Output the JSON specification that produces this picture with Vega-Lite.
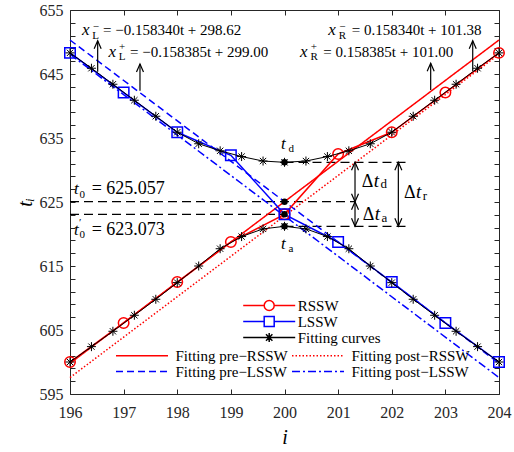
{
  "$schema": "https://vega.github.io/schema/vega-lite/v6.json",
  "width": 429,
  "height": 384,
  "autosize": {"type": "none"},
  "padding": {"left": 70, "top": 10, "right": 15, "bottom": 58},
  "background": "white",
  "config": {"view": {"stroke": null}, "font": "Liberation Serif"},
  "datasets": {
    "obs": [
      {"series": "RSSW", "i": 196, "t": 600.0}, {"series": "RSSW", "i": 197, "t": 606.1}, {"series": "RSSW", "i": 198, "t": 612.5},
      {"series": "RSSW", "i": 199, "t": 618.75}, {"series": "RSSW", "i": 200, "t": 623.07}, {"series": "RSSW", "i": 201, "t": 632.5},
      {"series": "RSSW", "i": 202, "t": 635.9}, {"series": "RSSW", "i": 203, "t": 642.1}, {"series": "RSSW", "i": 204, "t": 648.3},
      {"series": "LSSW", "i": 196, "t": 648.3}, {"series": "LSSW", "i": 197, "t": 642.1}, {"series": "LSSW", "i": 198, "t": 635.9},
      {"series": "LSSW", "i": 199, "t": 632.3}, {"series": "LSSW", "i": 200, "t": 623.07}, {"series": "LSSW", "i": 201, "t": 618.75},
      {"series": "LSSW", "i": 202, "t": 612.5}, {"series": "LSSW", "i": 203, "t": 606.1}, {"series": "LSSW", "i": 204, "t": 600.0}
    ],
    "curves": [
      {"curve": "lower", "i": 196, "t": 600.0}, {"curve": "lower", "i": 196.4, "t": 602.4}, {"curve": "lower", "i": 196.8, "t": 604.8},
      {"curve": "lower", "i": 197.2, "t": 607.3}, {"curve": "lower", "i": 197.6, "t": 609.8}, {"curve": "lower", "i": 198, "t": 612.4},
      {"curve": "lower", "i": 198.4, "t": 615.0}, {"curve": "lower", "i": 198.8, "t": 617.7}, {"curve": "lower", "i": 199.2, "t": 619.6},
      {"curve": "lower", "i": 199.6, "t": 620.8}, {"curve": "lower", "i": 200, "t": 621.2}, {"curve": "lower", "i": 200.4, "t": 620.8},
      {"curve": "lower", "i": 200.8, "t": 619.6}, {"curve": "lower", "i": 201.2, "t": 617.7}, {"curve": "lower", "i": 201.6, "t": 615.0},
      {"curve": "lower", "i": 202, "t": 612.4}, {"curve": "lower", "i": 202.4, "t": 609.8}, {"curve": "lower", "i": 202.8, "t": 607.3},
      {"curve": "lower", "i": 203.2, "t": 604.8}, {"curve": "lower", "i": 203.6, "t": 602.4}, {"curve": "lower", "i": 204, "t": 600.0},
      {"curve": "upper", "i": 196, "t": 648.3}, {"curve": "upper", "i": 196.4, "t": 645.9}, {"curve": "upper", "i": 196.8, "t": 643.4},
      {"curve": "upper", "i": 197.2, "t": 640.9}, {"curve": "upper", "i": 197.6, "t": 638.4}, {"curve": "upper", "i": 198, "t": 635.9},
      {"curve": "upper", "i": 198.4, "t": 634.1}, {"curve": "upper", "i": 198.8, "t": 633.0}, {"curve": "upper", "i": 199.2, "t": 632.1},
      {"curve": "upper", "i": 199.6, "t": 631.4}, {"curve": "upper", "i": 200, "t": 631.2}, {"curve": "upper", "i": 200.4, "t": 631.4},
      {"curve": "upper", "i": 200.8, "t": 632.1}, {"curve": "upper", "i": 201.2, "t": 633.0}, {"curve": "upper", "i": 201.6, "t": 634.1},
      {"curve": "upper", "i": 202, "t": 635.9}, {"curve": "upper", "i": 202.4, "t": 638.4}, {"curve": "upper", "i": 202.8, "t": 640.9},
      {"curve": "upper", "i": 203.2, "t": 643.4}, {"curve": "upper", "i": 203.6, "t": 645.9}, {"curve": "upper", "i": 204, "t": 648.3}
    ],
    "fits": [
      {"fit": "Fitting pre−RSSW", "i": 196, "t": 599.80}, {"fit": "Fitting pre−RSSW", "i": 204, "t": 650.31},
      {"fit": "Fitting post−RSSW", "i": 196, "t": 597.57}, {"fit": "Fitting post−RSSW", "i": 204, "t": 648.09},
      {"fit": "Fitting pre−LSSW", "i": 196, "t": 650.31}, {"fit": "Fitting pre−LSSW", "i": 204, "t": 599.80},
      {"fit": "Fitting post−LSSW", "i": 196, "t": 648.09}, {"fit": "Fitting post−LSSW", "i": 204, "t": 597.57}
    ],
    "guides": [
      {"i": 196, "i2": 201.315, "t": 625.057},
      {"i": 196, "i2": 200, "t": 623.073},
      {"i": 200, "i2": 202.3, "t": 631.2},
      {"i": 200, "i2": 202.3, "t": 621.2}
    ],
    "dots": [
      {"i": 200, "t": 631.2}, {"i": 200, "t": 625.057}, {"i": 200, "t": 623.073}, {"i": 200, "t": 621.2}
    ],
    "arrows": [
      {"i": 196.516, "t": 645.36, "t2": 650.2},
      {"i": 197.305, "t": 642.4, "t2": 646.56},
      {"i": 203.51, "t": 645.47, "t2": 650.2},
      {"i": 202.726, "t": 642.5, "t2": 646.67},
      {"i": 201.315, "t": 625.057, "t2": 631.2},
      {"i": 201.315, "t": 621.2, "t2": 625.057},
      {"i": 202.123, "t": 621.2, "t2": 631.2}
    ],
    "heads": [
      {"i": 196.516, "t": 650.2, "dir": "up"}, {"i": 197.305, "t": 646.56, "dir": "up"},
      {"i": 203.51, "t": 650.2, "dir": "up"}, {"i": 202.726, "t": 646.67, "dir": "up"},
      {"i": 201.315, "t": 631.2, "dir": "up"}, {"i": 201.315, "t": 625.057, "dir": "up"},
      {"i": 202.123, "t": 631.2, "dir": "up"},
      {"i": 201.315, "t": 625.057, "dir": "down"}, {"i": 201.315, "t": 621.2, "dir": "down"},
      {"i": 202.123, "t": 621.2, "dir": "down"}
    ],
    "labels": [
      {"i": 196.615, "t": 651.09, "text": "= −0.158340t + 298.62", "role": "eq"},
      {"i": 197.119, "t": 647.73, "text": "= −0.158385t + 299.00", "role": "eq"},
      {"i": 201.253, "t": 651.09, "text": "= 0.158340t + 101.38", "role": "eq"},
      {"i": 200.724, "t": 647.73, "text": "= 0.158385t + 101.00", "role": "eq"},
      {"i": 196.224, "t": 651.09, "text": "x", "role": "var"},
      {"i": 196.718, "t": 647.73, "text": "x", "role": "var"},
      {"i": 200.817, "t": 651.09, "text": "x", "role": "var"},
      {"i": 200.289, "t": 647.73, "text": "x", "role": "var"},
      {"i": 196.075, "t": 626.25, "text": "t", "role": "var"},
      {"i": 196.075, "t": 619.84, "text": "t", "role": "var"},
      {"i": 199.935, "t": 633.28, "text": "t", "role": "var"},
      {"i": 199.935, "t": 617.66, "text": "t", "role": "var"},
      {"i": 196.425, "t": 651.95, "text": "−", "role": "sub"},
      {"i": 196.415, "t": 650.47, "text": "L", "role": "sub"},
      {"i": 196.915, "t": 648.75, "text": "+", "role": "sub"},
      {"i": 196.91, "t": 647.11, "text": "L", "role": "sub"},
      {"i": 201.022, "t": 651.95, "text": "−", "role": "sub"},
      {"i": 201.012, "t": 650.47, "text": "R", "role": "sub"},
      {"i": 200.49, "t": 648.75, "text": "+", "role": "sub"},
      {"i": 200.485, "t": 647.11, "text": "R", "role": "sub"},
      {"i": 196.177, "t": 625.7, "text": "0", "role": "sub"},
      {"i": 196.17, "t": 621.3, "text": "′", "role": "sub"},
      {"i": 196.177, "t": 619.3, "text": "0", "role": "sub"},
      {"i": 200.075, "t": 632.81, "text": "d", "role": "sub"},
      {"i": 200.075, "t": 617.19, "text": "a", "role": "sub"},
      {"i": 196.405, "t": 626.25, "text": "= 625.057", "role": "num"},
      {"i": 196.405, "t": 619.84, "text": "= 623.073", "role": "num"},
      {"i": 201.441, "t": 627.39, "text": "Δ", "role": "dl"},
      {"i": 201.458, "t": 622.19, "text": "Δ", "role": "dl"},
      {"i": 202.228, "t": 625.58, "text": "Δ", "role": "dl"},
      {"i": 201.665, "t": 627.39, "text": "t", "role": "dvar"},
      {"i": 201.682, "t": 622.19, "text": "t", "role": "dvar"},
      {"i": 202.452, "t": 625.58, "text": "t", "role": "dvar"},
      {"i": 201.79, "t": 627.14, "text": "d", "role": "dsub"},
      {"i": 201.807, "t": 621.92, "text": "a", "role": "dsub"},
      {"i": 202.577, "t": 625.31, "text": "r", "role": "dsub"}
    ]
  },
  "layer": [
    {
      "data": {"name": "guides"},
      "mark": {"type": "rule", "strokeDash": [9, 5], "color": "black", "strokeWidth": 1.2},
      "encoding": {
        "x": {"field": "i", "type": "quantitative", "scale": {"domain": [196, 204], "nice": false, "zero": false},
          "axis": {"orient": "top", "values": [196, 197, 198, 199, 200, 201, 202, 203, 204], "labels": false, "title": null, "tickSize": -5, "grid": false, "domainColor": "#262626", "tickColor": "#262626"}},
        "x2": {"field": "i2"},
        "y": {"field": "t", "type": "quantitative", "scale": {"domain": [595, 655], "nice": false, "zero": false},
          "axis": {"orient": "right", "values": [595,597,599,601,603,605,607,609,611,613,615,617,619,621,623,625,627,629,631,633,635,637,639,641,643,645,647,649,651,653,655], "labels": false, "title": null, "tickSize": -5, "grid": false, "domainColor": "#262626", "tickColor": "#262626"}}
      }
    },
    {
      "encoding": {
        "x": {"field": "i", "type": "quantitative", "scale": {"domain": [196, 204], "nice": false, "zero": false},
          "axis": {"orient": "bottom", "values": [196, 197, 198, 199, 200, 201, 202, 203, 204], "title": "i", "titleFont": "Liberation Serif", "titleFontStyle": "italic", "titleFontWeight": "normal", "titleFontSize": 20, "titleColor": "black", "titlePadding": 7,
            "labelFont": "Liberation Serif", "labelFontSize": 16, "labelColor": "#262626", "labelFlush": false, "labelOverlap": false, "labelPadding": 15, "tickSize": -5, "grid": false, "domainColor": "#262626", "tickColor": "#262626"}},
        "y": {"field": "t", "type": "quantitative", "scale": {"domain": [595, 655], "nice": false, "zero": false},
          "axis": {"orient": "left", "values": [595,597,599,601,603,605,607,609,611,613,615,617,619,621,623,625,627,629,631,633,635,637,639,641,643,645,647,649,651,653,655],
            "labelExpr": "datum.value % 10 === 5 ? datum.label : ''", "title": "tᵢ", "titleFont": "Liberation Serif", "titleFontStyle": "italic", "titleFontWeight": "normal", "titleFontSize": 20, "titleColor": "black", "titlePadding": 4,
            "labelFont": "Liberation Serif", "labelFontSize": 16, "labelColor": "#262626", "labelFlush": false, "labelOverlap": false, "labelPadding": 12, "tickSize": -5, "grid": false, "domainColor": "#262626", "tickColor": "#262626"}}
      },
      "layer": [
        {
          "data": {"name": "fits"},
          "mark": {"type": "line", "strokeWidth": 1.5},
          "encoding": {
            "color": {"field": "fit", "type": "nominal",
              "scale": {"domain": ["Fitting pre−RSSW", "Fitting pre−LSSW", "Fitting post−RSSW", "Fitting post−LSSW"], "range": ["#ff0000", "#0000ff", "#ff0000", "#0000ff"]},
              "legend": {"orient": "none", "legendX": 64.5, "legendY": 338, "title": null, "columns": 2, "columnPadding": 0, "rowPadding": 0, "padding": 0, "symbolType": "M-5.2,0H5.2", "symbolSize": 100, "symbolStrokeWidth": 1.5, "labelFont": "Liberation Serif", "labelFontSize": 15, "labelColor": "black", "labelOffset": 26}},
            "strokeDash": {"field": "fit", "type": "nominal",
              "scale": {"domain": ["Fitting pre−RSSW", "Fitting pre−LSSW", "Fitting post−RSSW", "Fitting post−LSSW"], "range": [[1, 0], [7, 4], [1.5, 2], [8, 3, 2, 3]]},
              "legend": {"orient": "none", "legendX": 64.5, "legendY": 338, "title": null, "columns": 2, "columnPadding": 0, "rowPadding": 0, "padding": 0, "symbolType": "M-5.2,0H5.2", "symbolSize": 100, "symbolStrokeWidth": 1.5, "labelFont": "Liberation Serif", "labelFontSize": 15, "labelColor": "black", "labelOffset": 26}}
          }
        },
        {
          "data": {"name": "obs"},
          "transform": [{"filter": "datum.series === 'RSSW'"}],
          "mark": {"type": "line", "color": "#ff0000", "strokeWidth": 1.5}
        },
        {
          "data": {"name": "obs"},
          "transform": [{"filter": "datum.series === 'LSSW'"}],
          "mark": {"type": "line", "color": "#0000ff", "strokeWidth": 1.5}
        },
        {
          "data": {"name": "obs"},
          "transform": [{"filter": "datum.series === 'RSSW'"}],
          "mark": {"type": "point", "shape": "circle", "filled": false, "size": 110, "strokeWidth": 1.5, "color": "#ff0000", "opacity": 1}
        },
        {
          "data": {"name": "obs"},
          "transform": [{"filter": "datum.series === 'LSSW'"}],
          "mark": {"type": "point", "shape": "square", "filled": false, "size": 110, "strokeWidth": 1.5, "color": "#0000ff", "opacity": 1}
        },
        {
          "data": {"name": "curves"},
          "mark": {"type": "line", "color": "black", "strokeWidth": 1},
          "encoding": {"detail": {"field": "curve"}}
        },
        {
          "data": {"name": "curves"},
          "mark": {"type": "point", "shape": "M-1,0H1M0,-1V1M-0.7,-0.7L0.7,0.7M-0.7,0.7L0.7,-0.7", "filled": false, "size": 81, "strokeWidth": 1, "color": "black", "opacity": 1}
        },
        {
          "data": {"name": "dots"},
          "mark": {"type": "circle", "size": 42, "color": "black", "opacity": 1}
        },
        {
          "data": {"name": "arrows"},
          "mark": {"type": "rule", "color": "black", "strokeWidth": 1.2},
          "encoding": {"y2": {"field": "t2"}}
        },
        {
          "data": {"name": "heads"},
          "transform": [{"filter": "datum.dir === 'up'"}],
          "mark": {"type": "point", "shape": "M-0.7,1.6L0,0L0.7,1.6", "filled": false, "size": 100, "strokeWidth": 1.2, "color": "black", "opacity": 1}
        },
        {
          "data": {"name": "heads"},
          "transform": [{"filter": "datum.dir === 'down'"}],
          "mark": {"type": "point", "shape": "M-0.7,-1.6L0,0L0.7,-1.6", "filled": false, "size": 100, "strokeWidth": 1.2, "color": "black", "opacity": 1}
        },
        {
          "data": {"name": "labels"},
          "transform": [{"filter": "datum.role === 'eq'"}],
          "mark": {"type": "text", "align": "left", "baseline": "alphabetic", "font": "Liberation Serif", "fontSize": 15, "color": "black"},
          "encoding": {"text": {"field": "text"}}
        },
        {
          "data": {"name": "labels"},
          "transform": [{"filter": "datum.role === 'var'"}],
          "mark": {"type": "text", "align": "left", "baseline": "alphabetic", "font": "Liberation Serif", "fontStyle": "italic", "fontSize": 17, "color": "black"},
          "encoding": {"text": {"field": "text"}}
        },
        {
          "data": {"name": "labels"},
          "transform": [{"filter": "datum.role === 'sub'"}],
          "mark": {"type": "text", "align": "left", "baseline": "alphabetic", "font": "Liberation Serif", "fontSize": 11, "color": "black"},
          "encoding": {"text": {"field": "text"}}
        },
        {
          "data": {"name": "labels"},
          "transform": [{"filter": "datum.role === 'num'"}],
          "mark": {"type": "text", "align": "left", "baseline": "alphabetic", "font": "Liberation Serif", "fontSize": 18, "color": "black"},
          "encoding": {"text": {"field": "text"}}
        },
        {
          "data": {"name": "labels"},
          "transform": [{"filter": "datum.role === 'dl'"}],
          "mark": {"type": "text", "align": "left", "baseline": "alphabetic", "font": "Liberation Serif", "fontSize": 18, "color": "black"},
          "encoding": {"text": {"field": "text"}}
        },
        {
          "data": {"name": "labels"},
          "transform": [{"filter": "datum.role === 'dvar'"}],
          "mark": {"type": "text", "align": "left", "baseline": "alphabetic", "font": "Liberation Serif", "fontStyle": "italic", "fontSize": 19, "color": "black"},
          "encoding": {"text": {"field": "text"}}
        },
        {
          "data": {"name": "labels"},
          "transform": [{"filter": "datum.role === 'dsub'"}],
          "mark": {"type": "text", "align": "left", "baseline": "alphabetic", "font": "Liberation Serif", "fontSize": 13, "color": "black"},
          "encoding": {"text": {"field": "text"}}
        },
        {
          "data": {"name": "obs"},
          "transform": [{"filter": "false"}],
          "mark": {"type": "point", "filled": false, "size": 100, "strokeWidth": 1.5, "opacity": 1},
          "encoding": {
            "color": {"field": "series", "type": "nominal",
              "scale": {"domain": ["RSSW", "LSSW", "Fitting curves"], "range": ["#ff0000", "#0000ff", "#000000"]},
              "legend": {"orient": "none", "legendX": 191.7, "legendY": 288, "title": null, "rowPadding": -2, "padding": 0, "symbolSize": 100, "symbolStrokeWidth": 1.5, "labelFont": "Liberation Serif", "labelFontSize": 15, "labelColor": "black", "labelOffset": 21}},
            "shape": {"field": "series", "type": "nominal",
              "scale": {"domain": ["RSSW", "LSSW", "Fitting curves"], "range": [
                "M-5.2,0H-1M1,0H5.2M1,0A1,1,0,1,1,-1,0A1,1,0,1,1,1,0",
                "M-5.2,0H-1M1,0H5.2M-1,-1H1V1H-1Z",
                "M-5.2,0H5.2M0,-0.9V0.9M-0.64,-0.64L0.64,0.64M-0.64,0.64L0.64,-0.64"]},
              "legend": {"orient": "none", "legendX": 191.7, "legendY": 288, "title": null, "rowPadding": -2, "padding": 0, "symbolSize": 100, "symbolStrokeWidth": 1.5, "labelFont": "Liberation Serif", "labelFontSize": 15, "labelColor": "black", "labelOffset": 21}}
          }
        }
      ],
      "resolve": {"scale": {"color": "independent", "shape": "independent", "strokeDash": "independent"}}
    }
  ],
  "resolve": {"axis": {"x": "independent", "y": "independent"}}
}
